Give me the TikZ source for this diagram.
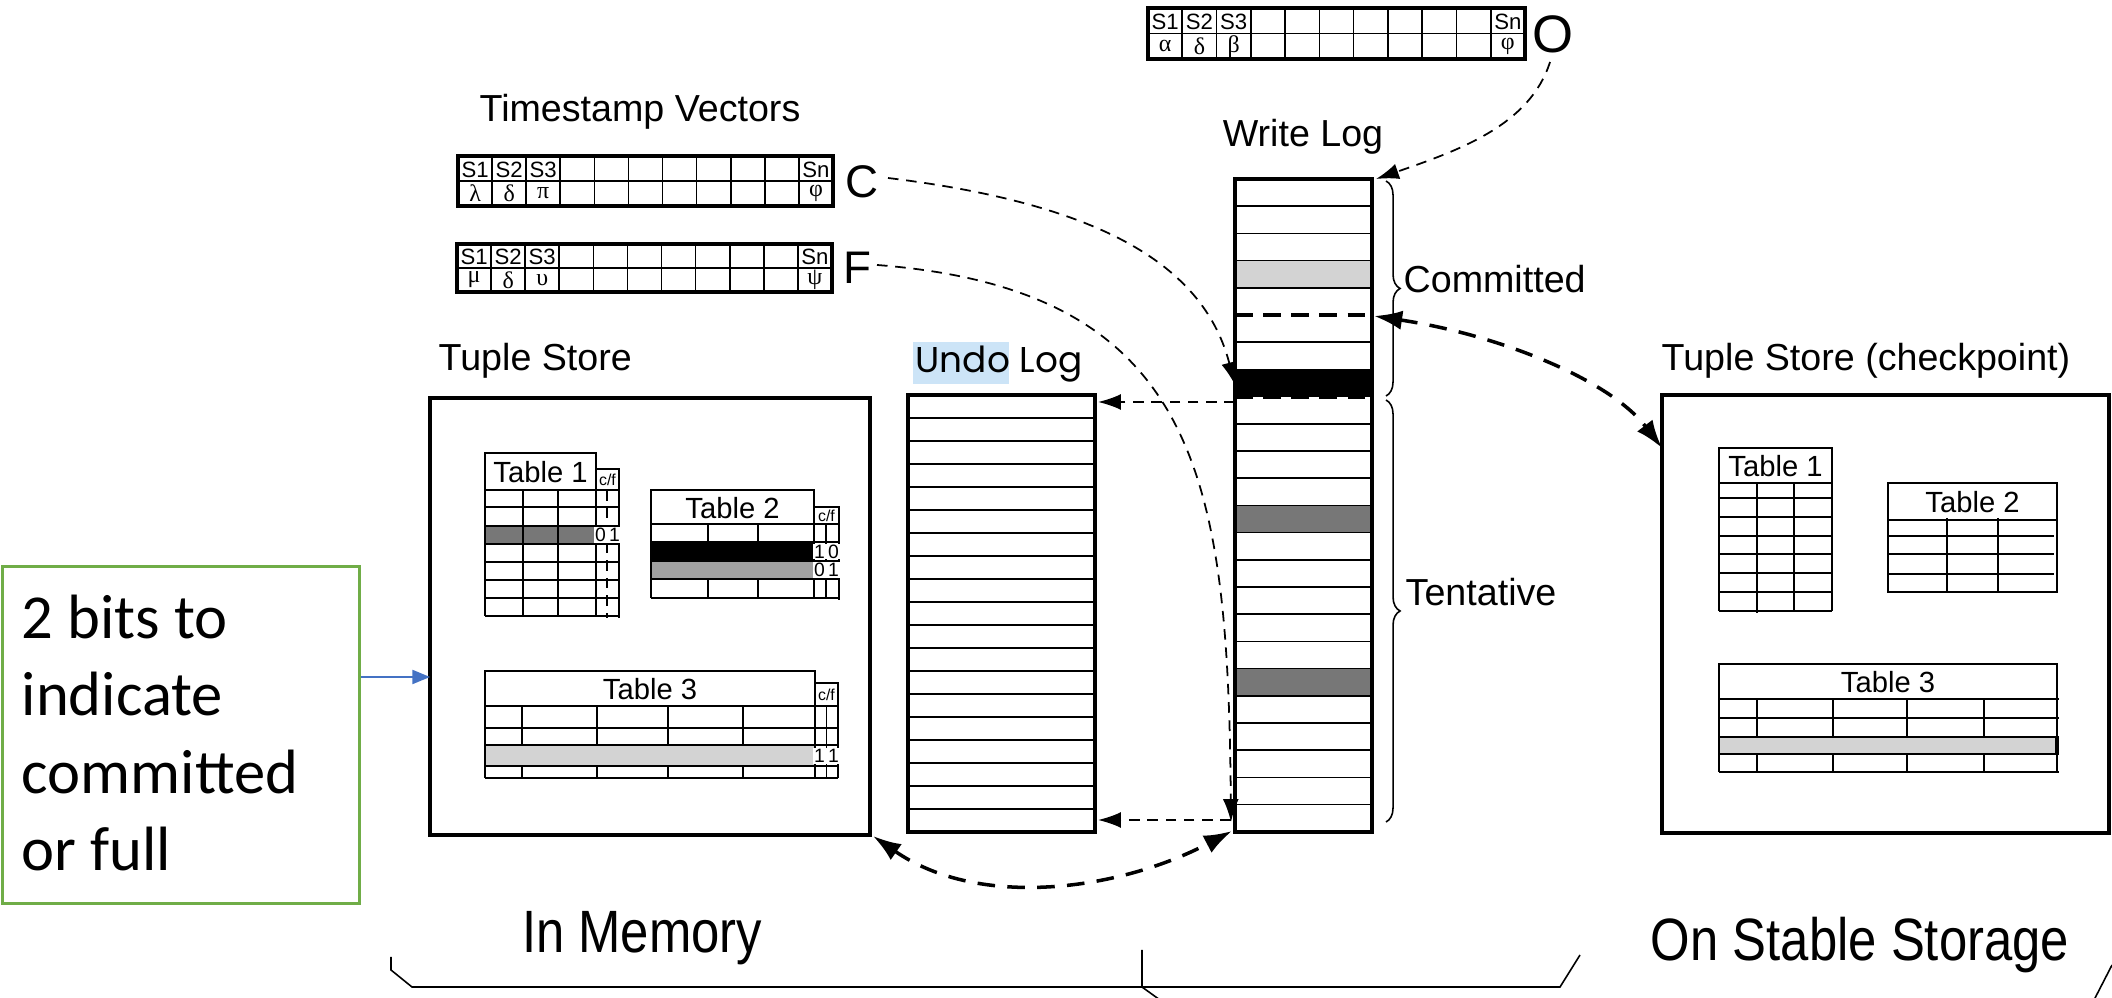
\documentclass[tikz,border=0pt]{standalone}
\usepackage{fontspec}
\setmainfont{Liberation Sans}
\newfontfamily\greekfont{Liberation Serif}
\newfontfamily\calfont{Carlito}
\newfontfamily\undofont{Poppins}
\usetikzlibrary{arrows.meta,decorations.pathreplacing}
\definecolor{greenbox}{HTML}{70AD47}
\definecolor{bluearr}{HTML}{4472C4}
\definecolor{hilite}{HTML}{CCE4F7}
\definecolor{dgray}{HTML}{777777}
\definecolor{mgray}{HTML}{A0A0A0}
\definecolor{lgray}{HTML}{D3D3D3}
\tikzset{
 thinln/.style={line width=0.45pt},
 thickln/.style={line width=1.2pt},
 boxln/.style={line width=1.3pt},
 lbl/.style={font=\fontsize{10.7}{12}\selectfont, inner sep=0pt},
 biglbl/.style={font=\fontsize{17}{18}\selectfont, inner sep=0pt},
 cellt/.style={font=\fontsize{6.3}{7}\selectfont, inner sep=0pt},
 greekt/.style={font=\greekfont\fontsize{6.8}{7}\selectfont, inner sep=0pt},
 tabt/.style={font=\fontsize{8.3}{9}\selectfont, inner sep=0pt},
 cft/.style={font=\fontsize{4.5}{5}\selectfont, inner sep=0pt},
 bitt/.style={font=\fontsize{5.5}{6}\selectfont, inner sep=0pt},
 darr/.style={line width=0.5pt, dash pattern=on 3pt off 2.2pt, -{Latex[length=6.5pt,width=4.5pt]}},
 bigarr/.style={line width=1pt, dash pattern=on 5pt off 3.5pt, {Latex[length=8pt,width=5.5pt]}-{Latex[length=8pt,width=5.5pt]}},
}
% timestamp vector: x0 y0 x1 y1 g1 g2 g3 gn prefix
\newcommand\tsvec[9]{%
 \pgfmathsetmacro\cw{(#3-#1)/11}%
 \pgfmathsetmacro\ym{(#2+#4)/2}%
 \draw[thinln] (#1,\ym) -- (#3,\ym);
 \foreach \i in {1,...,10}{\draw[thinln] ({#1+\i*\cw},#2) -- ({#1+\i*\cw},#4);}
 \draw[thickln] (#1,#2) rectangle (#3,#4);
 \foreach \i/\t in {1/S1,2/S2,3/S3,11/Sn}{\node[cellt] (#9s\i) at ({#1+(\i-0.5)*\cw},{(#2+\ym)/2+1}) {\t};}
 \foreach \i/\t in {1/#5,2/#6,3/#7,11/#8}{\node[greekt] (#9g\i) at ({#1+(\i-0.5)*\cw},{(\ym+#4)/2}) {\t};}
}
\begin{document}
\begin{tikzpicture}[x=0.01cm,y=-0.01cm]
\useasboundingbox (0,0) rectangle (2112,998);

% ---------- timestamp vectors ----------
\node[lbl] (tsv) at (640,112) {Timestamp Vectors};
\tsvec{1148}{8}{1525}{59}{α}{δ}{β}{φ}{vo}
\tsvec{458}{156}{833}{206}{λ}{δ}{π}{φ}{vc}
\tsvec{457}{244}{832}{292}{μ}{δ}{υ}{ψ}{vf}
\node[font=\fontsize{15}{16}\selectfont, inner sep=0pt] (O) at (1553,34) {O};
\node[font=\fontsize{13}{14}\selectfont, inner sep=0pt] (C) at (862,182) {C};
\node[font=\fontsize{13}{14}\selectfont, inner sep=0pt] (F) at (857,268) {F};

% ---------- tuple store ----------
\node[lbl, anchor=west] (tslbl) at (438,361) {Tuple Store};
\draw[boxln] (430,398) rectangle (870,835);
\coordinate (tsBR) at (873,836);
\coordinate (tsL) at (430,677);

% Table 1
\fill[dgray] (485,526) rectangle (596,544);
\draw[thinln] (485,453) rectangle (596,490);
\node[tabt] (t1) at (540.5,472) {Table 1};
\foreach \y in {490,507,526,544,562,580,598,616} \draw[thinln] (485,\y) -- (619,\y);
\foreach \x in {485,523,558,596} \draw[thinln] (\x,490) -- (\x,616);
\draw[line width=0.8pt] (485,526) rectangle (596,544);
\draw[thinln] (596,469) -- (619,469) -- (619,618);
\draw[thinln] (596,469) -- (596,490);
\draw[thinln, dash pattern=on 3pt off 2pt] (607,490) -- (607,618);
\node[cft] (t1cf) at (607.5,480) {c/f};
\node[bitt, fill=white, inner sep=0.3pt] (t1b) at (607.5,535) {0\,1};

% Table 2
\fill[black] (651,542) rectangle (814,561);
\fill[mgray] (651,561) rectangle (814,579);
\draw[thinln] (651,490) rectangle (814,524);
\node[tabt] (t2) at (732.5,508) {Table 2};
\foreach \y in {524,542,561,579,598} \draw[thinln] (651,\y) -- (839,\y);
\foreach \x in {651,708,758} {\draw[thinln] (\x,524) -- (\x,542); \draw[thinln] (\x,579) -- (\x,598);}
\draw[thinln] (651,524) -- (651,598);
\draw[thinln] (814,507) -- (839,507) -- (839,600);
\draw[thinln] (814,507) -- (814,598);
\draw[thinln] (826,524) -- (826,598);
\node[cft] (t2cf) at (826.5,516) {c/f};
\node[bitt, fill=white, inner sep=0.3pt] (t2b1) at (826.5,551.5) {1\,0};
\node[bitt, fill=white, inner sep=0.3pt] (t2b2) at (826.5,570) {0\,1};

% Table 3
\fill[lgray] (485,745) rectangle (815,766);
\draw[thinln] (485,671) rectangle (815,706);
\node[tabt] (t3) at (650,689) {Table 3};
\foreach \y in {706,728,745,766,778} \draw[thinln] (485,\y) -- (838,\y);
\foreach \x in {522,597,668,743} {\draw[thinln] (\x,706) -- (\x,745); \draw[thinln] (\x,766) -- (\x,778);}
\draw[thinln] (485,706) -- (485,778);
\draw[thinln] (815,683) -- (838,683) -- (838,778);
\draw[thinln] (815,683) -- (815,778);
\draw[thinln] (826.5,706) -- (826.5,778);
\node[cft] (t3cf) at (826.5,695) {c/f};
\node[bitt, fill=white, inner sep=0.3pt] (t3b) at (826.5,756) {1\,1};

% ---------- undo log ----------
\fill[hilite] (913,342) rectangle (1009,384);
\node[font=\undofont\fontsize{10.2}{12}\selectfont, inner sep=0pt, anchor=west] (ulbl) at (915,364) {Undo Log};
\foreach \k in {1,...,18} \draw[thinln] (908,{395+\k*23}) -- (1095,{395+\k*23});
\draw[boxln] (908,395) rectangle (1095,832);
\coordinate (uTop) at (1098,402);
\coordinate (uBot) at (1098,820);

% ---------- write log ----------
\node[lbl] (wlbl) at (1303,137) {Write Log};
\fill[lgray] (1235,{179+3*27.2}) rectangle (1372,{179+4*27.2});
\fill[black] (1235,{179+7*27.2}) rectangle (1372,{179+8*27.2});
\fill[dgray] (1235,{179+12*27.2}) rectangle (1372,{179+13*27.2});
\fill[dgray] (1235,{179+18*27.2}) rectangle (1372,{179+19*27.2});
\foreach \k in {1,2,3,4,6,7,9,10,11,12,13,14,15,16,17,18,19,20,21,22,23} \draw[thinln] (1235,{179+\k*27.2}) -- (1372,{179+\k*27.2});
\draw[line width=1.2pt, dash pattern=on 5pt off 3pt] (1235,{179+5*27.2}) -- (1372,{179+5*27.2});
\draw[line width=1.2pt, dash pattern=on 5pt off 3pt] (1235,{179+8*27.2}) -- (1372,{179+8*27.2});
\draw[boxln] (1235,179) rectangle (1372,832);
\coordinate (wTR) at (1376,179);
\coordinate (wBlack) at (1235,385);
\coordinate (wUndoTop) at (1235,402);
\coordinate (wBot) at (1231,822);
\coordinate (wUndoBot) at (1231,820);
\coordinate (wBL) at (1232,831);
\coordinate (wDash) at (1374,316);

% braces
\draw[thinln, decorate, decoration={brace, amplitude=4pt}] (1386,181) -- (1386,396);
\node[lbl, anchor=west] (comm) at (1403,279) {Committed};
\draw[thinln, decorate, decoration={brace, amplitude=4pt}] (1386,400) -- (1386,822);
\node[lbl, anchor=west] (tent) at (1405,592) {Tentative};

% ---------- tuple store checkpoint ----------
\node[lbl, anchor=west] (cklbl) at (1661,361) {Tuple Store (checkpoint)};
\draw[boxln] (1662,395) rectangle (2109,833);
\coordinate (ckTL) at (1662,448);
% Table 1
\draw[thinln] (1719,448) rectangle (1832,483);
\node[tabt] (c1) at (1775.5,466) {Table 1};
\foreach \y in {483,498,517,536,554,573,592,611} \draw[thinln] (1719,\y) -- (1832,\y);
\foreach \x in {1719,1757,1794,1832} \draw[thinln] (\x,483) -- (\x,611);
\draw[thinln] (1757,611) -- (1757,613);
% Table 2
\draw[thinln] (1888,483) rectangle (2057,520);
\node[tabt] (c2) at (1972.5,502) {Table 2};
\foreach \y in {536,554,574} \draw[thinln] (1888,\y) -- (2054,\y);
\draw[thinln] (1888,520) rectangle (2057,592);
\foreach \x in {1947,1998} \draw[thinln] (\x,518) -- (\x,592);
% Table 3
\fill[lgray] (1719,737) rectangle (2057,754);
\draw[thinln] (1719,664) rectangle (2057,699);
\node[tabt] (c3) at (1888,682) {Table 3};
\foreach \y in {699,718,737,754,772} \draw[thinln] (1719,\y) -- (2059,\y);
\draw[thinln] (1719,699) -- (1719,772);
\draw[thinln] (2057,699) -- (2057,772);
\foreach \x in {1757,1833,1907,1984} {\draw[thinln] (\x,699) -- (\x,737); \draw[thinln] (\x,754) -- (\x,772);}
\draw[line width=1pt] (2057,737) -- (2057,754);

% ---------- connectors ----------
\coordinate (Oend) at (1550,62);
\coordinate (Cst) at (888,178);
\coordinate (Fst) at (877,265);
\draw[darr] (Oend) .. controls (1530,125) and (1460,150) .. (wTR);
\draw[darr] (Cst) .. controls (1110,205) and (1205,270) .. (wBlack);
\draw[darr] (Fst) .. controls (1200,290) and (1228,480) .. (wBot);
\draw[darr] (wUndoTop) -- (uTop);
\draw[darr] (wUndoBot) -- (uBot);
\draw[bigarr] (tsBR) .. controls (980,910) and (1120,890) .. (wBL);
\draw[bigarr] (wDash) .. controls (1500,335) and (1610,380) .. (ckTL);

% ---------- note ----------
\node[draw=greenbox, line width=0.75pt, minimum width=3.57cm, minimum height=3.37cm, anchor=north west, inner sep=0pt] (note) at (1,565) {};
\node[font=\calfont\fontsize{17.8}{21.9}\selectfont, align=left, anchor=west, inner sep=0pt] (notet) at (21,733) {2 bits to\\indicate\\committed\\or full};
\draw[bluearr, line width=0.5pt, -{Triangle[length=5pt,width=4pt]}] (note.east |- tsL) -- (tsL);

% ---------- bottom ----------
\node[biglbl] (mem) at (642,938) {\scalebox{0.85}[1]{In Memory}};
\node[biglbl] (stab) at (1860,945) {\scalebox{0.85}[1]{On Stable Storage}};
\coordinate (bL) at (391,957);
\coordinate (bM) at (1142,950);
\coordinate (bR) at (1580,955);
\draw[thinln] (bL) -- (391,970) -- (412,987) -- (1560,987) -- (bR);
\draw[thinln] (bM) -- (1142,987) -- (1160,1000);
\coordinate (bX) at (2112,965);
\draw[thinln] (bX) -- (2094,1000);
\end{tikzpicture}
\end{document}
